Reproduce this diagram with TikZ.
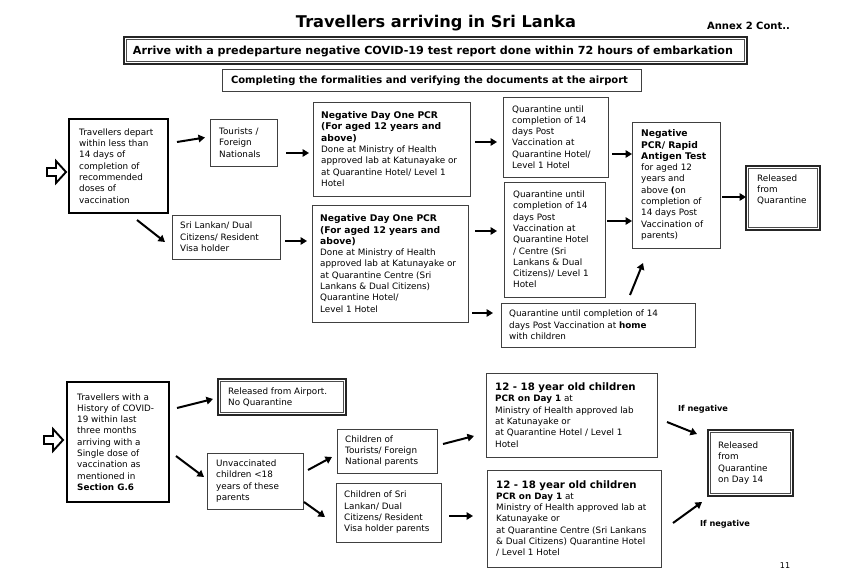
\documentclass[tikz,border=0pt]{standalone}
\usepackage{fontspec}
\setmainfont{DejaVu Sans}
\usepackage{graphicx}
\usetikzlibrary{arrows.meta}
\tikzset{
 box/.style={draw=black!75, line width=0.8pt, inner sep=0pt, outer sep=0pt},
 thickbox/.style={draw=black, line width=2.6pt, inner sep=0pt, outer sep=0pt},
 dblbox/.style={draw=black!85, line width=1.3pt, inner sep=0pt, outer sep=0pt},
 dblin/.style={draw=black!70, line width=0.7pt},
 txt/.style={anchor=west, align=left, inner sep=0pt, font=\fontsize{8.8}{11.3}\selectfont},
 arr/.style={line width=2pt, -{Triangle[length=6.5pt,width=7.5pt]}},
 hollowarr/.style={draw=black, line width=1.9pt, fill=white, line join=miter},
 lbl/.style={inner sep=0pt, font=\bfseries\fontsize{8.2}{9}\selectfont},
}
\newcommand\hdtxt{\bfseries\fontsize{9.2}{11.3}\selectfont}
\newcommand\bx[8]{%
 \node[#1, minimum width={(#5-#3)*1pt}, minimum height={(#6-#4)*1pt}] (#2) at ({(#3+#5)/2},{(#4+#6)/2}) {};
 \node[txt] (#2-t) at ([xshift=#7pt]#2.west) {#8};
}
\newcommand\dbx[7]{%
 \bx{dblbox}{#1}{#2}{#3}{#4}{#5}{#6}{#7}
 \draw[dblin] ([shift={(2.4pt,-2.4pt)}]#1.north west) rectangle ([shift={(-2.4pt,2.4pt)}]#1.south east);
}
\newcommand\hollowat[1]{%
 \draw[hollowarr] (#1) -- ++(-10,-11) -- ++(0,7) -- ++(-9,0) -- ++(0,8) -- ++(9,0) -- ++(0,7) -- cycle;
}
\begin{document}
\begin{tikzpicture}[x=1pt,y=-1pt]
\useasboundingbox (0,0) rectangle (842,588);
\fill[white] (0,0) rectangle (842,588);

% header
\node[inner sep=0pt] (title) at (436,23) {\resizebox{280pt}{!}{\bfseries\fontsize{16.4}{18}\selectfont Travellers arriving in Sri Lanka}};
\node[inner sep=0pt] (annex) at (748.5,26) {\bfseries\fontsize{10}{11}\selectfont Annex 2 Cont..};
\node[dblbox, line width=1.6pt, minimum width=623pt, minimum height=27pt] (arrive) at (435.5,50.5) {};
\draw[dblin, line width=0.9pt] ([shift={(2.6pt,-2.6pt)}]arrive.north west) rectangle ([shift={(-2.6pt,2.6pt)}]arrive.south east);
\node[inner sep=0pt] (arrive-t) at (433,51) {\resizebox{600pt}{!}{\bfseries\fontsize{10}{12}\selectfont Arrive with a predeparture negative COVID-19 test report done within 72 hours of embarkation}};
\node[box, minimum width=419pt, minimum height=22pt] (forml) at (431.5,80) {};
\node[inner sep=0pt] (forml-t) at (429.5,80.5) {\resizebox{397pt}{!}{\bfseries\fontsize{8.8}{10}\selectfont Completing the formalities and verifying the documents at the airport}};

% upper section
\bx{thickbox}{trav}{69}{119}{168}{213}{10}{Travellers depart\\within less than\\14 days of\\completion of\\recommended\\doses of\\vaccination}
\coordinate (in1) at ([shift={(-3pt,-6pt)}]trav.west);
\hollowat{in1}
\bx{box}{tour}{210}{119}{277}{166}{9}{Tourists /\\Foreign\\Nationals}
\bx{box}{srl}{172}{215}{280}{259}{8}{Sri Lankan/ Dual\\Citizens/ Resident\\Visa holder}
\bx{box}{pcr1}{313}{102}{470}{196}{8}{{\hdtxt Negative Day One PCR}\\{\hdtxt (For aged 12 years and}\\{\hdtxt above)}\\Done at Ministry of Health\\approved lab at Katunayake or\\at Quarantine Hotel/ Level 1\\Hotel}
\bx{box}{pcr2}{312}{205}{468}{322}{8}{{\hdtxt Negative Day One PCR}\\{\hdtxt (For aged 12 years and}\\{\hdtxt above)}\\Done at Ministry of Health\\approved lab at Katunayake or\\at Quarantine Centre (Sri\\Lankans \& Dual Citizens)\\Quarantine Hotel/\\Level 1 Hotel}
\bx{box}{q1}{503}{97}{608}{177}{9}{Quarantine until\\completion of 14\\days Post\\Vaccination at\\Quarantine Hotel/\\Level 1 Hotel}
\bx{box}{q2}{504}{182}{605}{297}{9}{Quarantine until\\completion of 14\\days Post\\Vaccination at\\Quarantine Hotel\\/ Centre (Sri\\Lankans \& Dual\\Citizens)/ Level 1\\Hotel}
\bx{box}{qhome}{501}{303}{695}{347}{8}{Quarantine until completion of 14\\days Post Vaccination at \textbf{home}\\with children}
\bx{box}{pcr3}{632}{122}{720}{248}{9}{{\hdtxt Negative}\\{\hdtxt PCR/ Rapid}\\{\hdtxt Antigen Test}\\for aged 12\\years and\\above \textbf{(}on\\completion of\\14 days Post\\Vaccination of\\parents)}
\dbx{rel}{746}{166}{820}{230}{11}{Released\\from\\Quarantine\\[6pt]}

\draw[arr] ([shift={(9pt,24pt)}]trav.east) -- ([shift={(-5pt,5pt)}]tour.west);
\draw[arr] ([shift={(-31pt,-7pt)}]trav.south east) -- ([shift={(-7pt,-5pt)}]srl.west);
\draw[arr] ([shift={(9pt,-10.5pt)}]tour.east) -- ([shift={(-4pt,-4pt)}]pcr1.west);
\draw[arr] ([shift={(5pt,-4pt)}]srl.east) -- ([shift={(-5pt,22.5pt)}]pcr2.west);
\draw[arr] ([shift={(5pt,7pt)}]pcr1.east) -- ([shift={(-6pt,-5pt)}]q1.west);
\draw[arr] ([shift={(7pt,32.5pt)}]pcr2.east) -- ([shift={(-7pt,8.5pt)}]q2.west);
\draw[arr] ([shift={(4pt,-49.5pt)}]pcr2.east) -- ([shift={(-8pt,12pt)}]qhome.west);
\draw[arr] ([shift={(4pt,-17pt)}]q1.east) -- ([shift={(0pt,31pt)}]pcr3.west);
\draw[arr] ([shift={(2pt,18.5pt)}]q2.east) -- ([shift={(0pt,-36pt)}]pcr3.west);
\draw[arr] ([shift={(-65pt,8pt)}]qhome.north east) -- ([shift={(-33pt,-15pt)}]pcr3.south);
\draw[arr] ([shift={(2pt,-12pt)}]pcr3.east) -- ([shift={(0pt,1pt)}]rel.west);

% lower section
\bx{thickbox}{hist}{67}{382}{169}{502}{10}{Travellers with a\\History of COVID-\\19 within last\\three months\\arriving with a\\Single dose of\\vaccination as\\mentioned in\\\textbf{Section G.6}}
\coordinate (in2) at ([shift={(-4pt,2pt)}]hist.west);
\hollowat{in2}
\dbx{relair}{218}{379}{346}{415}{10}{Released from Airport.\\No Quarantine}
\bx{box}{unvac}{207}{453}{303}{509}{9}{Unvaccinated\\children <18\\years of these\\parents}
\bx{box}{chtour}{337}{429}{437}{473}{8}{Children of\\Tourists/ Foreign\\National parents}
\bx{box}{chsl}{336}{483}{441}{542}{8}{Children of Sri\\Lankan/ Dual\\Citizens/ Resident\\Visa holder parents}
\bx{box}{c1}{486}{373}{657}{457}{9}{\textbf{\fontsize{10.2}{12}\selectfont 12 - 18 year old children}\\\textbf{PCR on Day 1} at\\Ministry of Health approved lab\\at Katunayake or\\at Quarantine Hotel / Level 1\\Hotel}
\bx{box}{c2}{487}{470}{661}{567}{9}{\textbf{\fontsize{10.2}{12}\selectfont 12 - 18 year old children}\\\textbf{PCR on Day 1} at\\Ministry of Health approved lab at\\Katunayake or\\at Quarantine Centre (Sri Lankans\\\& Dual Citizens) Quarantine Hotel\\/ Level 1 Hotel}
\dbx{rel14}{708}{430}{793}{496}{10}{Released\\from\\Quarantine\\on Day 14}

\draw[arr] ([shift={(8pt,34pt)}]hist.east) -- ([shift={(-5pt,-2pt)}]relair.west);
\draw[arr] ([shift={(7pt,-14pt)}]hist.east) -- ([shift={(-3pt,4pt)}]unvac.west);
\draw[arr] ([shift={(5pt,11pt)}]unvac.east) -- ([shift={(-5pt,-6pt)}]chtour.west);
\draw[arr] ([shift={(1pt,-21pt)}]unvac.east) -- ([shift={(-11pt,-4.5pt)}]chsl.west);
\draw[arr] ([shift={(6pt,7pt)}]chtour.east) -- ([shift={(-12pt,-21pt)}]c1.west);
\draw[arr] ([shift={(8pt,-3.5pt)}]chsl.east) -- ([shift={(-14pt,2.5pt)}]c2.west);
\draw[arr] ([shift={(10pt,-7pt)}]c1.east) -- ([shift={(-11pt,29pt)}]rel14.west);
\draw[arr] ([shift={(12pt,-4.5pt)}]c2.east) -- ([shift={(-6pt,-39pt)}]rel14.west);

\node[lbl] (neg1) at (703,409) {If negative};
\node[lbl] (neg2) at (725,524) {If negative};
\node[inner sep=0pt, font=\fontsize{8}{9}\selectfont] (page) at (785,566) {11};
\end{tikzpicture}
\end{document}
